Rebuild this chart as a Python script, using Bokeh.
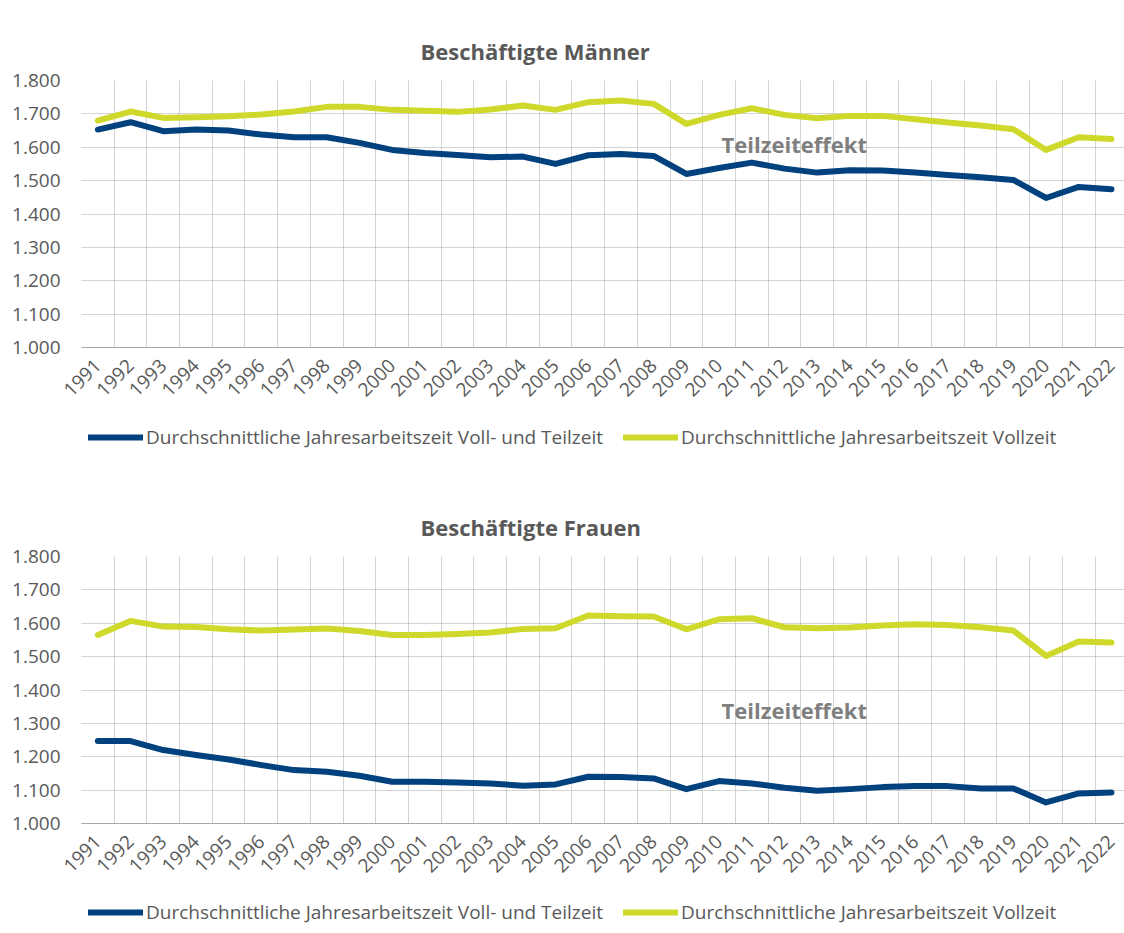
from bokeh.plotting import figure
from bokeh.models import FixedTicker, Legend, LegendItem, Label
from bokeh.layouts import column
from bokeh.embed import file_html
from bokeh.resources import INLINE
from math import pi

# ---------------- data ----------------
years = [1991, 1992, 1993, 1994, 1995, 1996, 1997, 1998, 1999, 2000,
         2001, 2002, 2003, 2004, 2005, 2006, 2007, 2008, 2009, 2010,
         2011, 2012, 2013, 2014, 2015, 2016, 2017, 2018, 2019, 2020,
         2021, 2022]

maenner_voll_teil = [1653, 1675, 1648, 1653, 1650, 1638, 1630, 1630, 1613, 1592,
                     1583, 1577, 1570, 1572, 1550, 1576, 1580, 1574, 1520, 1538,
                     1554, 1536, 1524, 1531, 1530, 1524, 1517, 1510, 1502, 1448,
                     1481, 1474]
maenner_vollzeit = [1680, 1707, 1688, 1690, 1693, 1698, 1707, 1721, 1721, 1712,
                    1709, 1706, 1713, 1725, 1712, 1735, 1740, 1730, 1670, 1697,
                    1717, 1697, 1687, 1694, 1694, 1684, 1674, 1665, 1654, 1592,
                    1630, 1625]

frauen_voll_teil = [1247, 1247, 1220, 1205, 1192, 1175, 1160, 1155, 1143, 1125,
                    1125, 1123, 1120, 1113, 1117, 1140, 1139, 1135, 1103, 1127,
                    1120, 1107, 1098, 1103, 1109, 1112, 1112, 1105, 1105, 1063,
                    1090, 1093]
frauen_vollzeit = [1565, 1607, 1590, 1589, 1582, 1578, 1581, 1584, 1577, 1565,
                   1565, 1568, 1572, 1583, 1585, 1623, 1621, 1620, 1582, 1612,
                   1615, 1588, 1585, 1587, 1593, 1597, 1595, 1588, 1578, 1502,
                   1545, 1542]

y_ticks = [1000, 1100, 1200, 1300, 1400, 1500, 1600, 1700, 1800]
y_tick_labels = ["1.000", "1.100", "1.200", "1.300", "1.400", "1.500", "1.600", "1.700", "1.800"]

series_names = ["Durchschnittliche Jahresarbeitszeit Voll- und Teilzeit",
                "Durchschnittliche Jahresarbeitszeit Vollzeit"]
titles = ["Beschäftigte Männer", "Beschäftigte Frauen"]
effekt_text = "Teilzeiteffekt"
effekt_pos = [(2012.3, 1611), (2012.3, 1341)]

# ---------------- style ----------------
FONT = "Open Sans"
TXT = "#595959"
BLUE = "#00417e"
YELLOW = "#cfd92b"
GRID = "#a8a8a8"
W = 1124


def line_style(color):
    return dict(line_color=color, line_width=6, line_cap="round", line_join="round")


def make_chart(title, gesamt, vollzeit, effekt_xy, top):
    p = figure(width=W, height=top + 267 + 70,
               min_border_left=81, min_border_right=0,
               min_border_top=top, min_border_bottom=70,
               x_range=(years[0] - 0.5, years[-1] + 0.4),
               y_range=(y_ticks[0], y_ticks[-1]),
               output_backend="svg", toolbar_location=None, tools="")
    p.outline_line_color = None

    p.title.text = title
    p.title.text_font = FONT
    p.title.text_font_size = "22px"
    p.title.text_font_style = "bold"
    p.title.text_color = TXT
    p.title.align = "left"
    p.title.offset = 339
    p.title.standoff = 29

    # grids
    p.ygrid.ticker = FixedTicker(ticks=y_ticks)
    p.ygrid.grid_line_color = GRID
    p.ygrid.grid_line_dash = "1 1"
    p.xgrid.ticker = FixedTicker(ticks=[y - 0.5 for y in years] + [years[-1] + 0.5])
    p.xgrid.grid_line_color = GRID
    p.xgrid.grid_line_dash = "1 1"

    # axes
    p.yaxis.ticker = FixedTicker(ticks=y_ticks)
    p.yaxis.major_label_overrides = dict(zip(y_ticks, y_tick_labels))
    p.yaxis.axis_line_color = None
    p.yaxis.major_tick_line_color = None
    p.yaxis.minor_tick_line_color = None
    p.yaxis.major_tick_out = 0
    p.yaxis.major_tick_in = 0
    p.yaxis.major_label_text_font = FONT
    p.yaxis.major_label_text_font_size = "19px"
    p.yaxis.major_label_text_color = TXT
    p.yaxis.major_label_standoff = 21

    p.xaxis.ticker = FixedTicker(ticks=years)
    p.xaxis.major_label_orientation = pi / 4
    p.xaxis.axis_line_color = GRID
    p.xaxis.major_tick_line_color = None
    p.xaxis.minor_tick_line_color = None
    p.xaxis.major_tick_out = 0
    p.xaxis.major_tick_in = 0
    p.xaxis.major_label_text_font = FONT
    p.xaxis.major_label_text_font_size = "19px"
    p.xaxis.major_label_text_color = TXT
    p.xaxis.major_label_standoff = 15

    p.line(years, gesamt, **line_style(BLUE))
    p.line(years, vollzeit, **line_style(YELLOW))

    lab = Label(x=effekt_xy[0], y=effekt_xy[1], text=effekt_text,
                text_font=FONT, text_font_size="22px", text_font_style="bold",
                text_color="#7f7f7f", text_align="center", text_baseline="middle")
    p.add_layout(lab)
    return p


def make_legend(gesamt, vollzeit, height, loc_y):
    # legend strip below each chart (series lines hidden, only the legend shows)
    f = figure(width=W, height=height, x_range=(0, 1), y_range=(0, 1),
               x_axis_type=None, y_axis_type=None,
               min_border_left=0, min_border_right=0,
               min_border_top=0, min_border_bottom=0,
               output_backend="svg", toolbar_location=None, tools="")
    f.outline_line_color = None
    f.grid.visible = False
    r1 = f.line(years, gesamt, visible=False, **line_style(BLUE))
    r2 = f.line(years, vollzeit, visible=False, **line_style(YELLOW))
    legend = Legend(items=[LegendItem(label=series_names[0], renderers=[r1]),
                           LegendItem(label=series_names[1], renderers=[r2])],
                    orientation="horizontal", location=(7, loc_y),
                    border_line_color=None, background_fill_alpha=0,
                    glyph_width=55, glyph_height=26, label_height=26,
                    label_standoff=3,
                    label_text_font=FONT, label_text_font_size="19px",
                    label_text_color=TXT, spacing=20, padding=0, margin=0)
    f.add_layout(legend, "center")
    return f


p1 = make_chart(titles[0], maenner_voll_teil, maenner_vollzeit, effekt_pos[0], 80)
l1 = make_legend(maenner_voll_teil, maenner_vollzeit, 67, 34)
p2 = make_chart(titles[1], frauen_voll_teil, frauen_vollzeit, effekt_pos[1], 72)
l2 = make_legend(frauen_voll_teil, frauen_vollzeit, 40, 8)

layout = column(p1, l1, p2, l2, spacing=0)
open("out.html", "w").write(file_html(layout, INLINE))
